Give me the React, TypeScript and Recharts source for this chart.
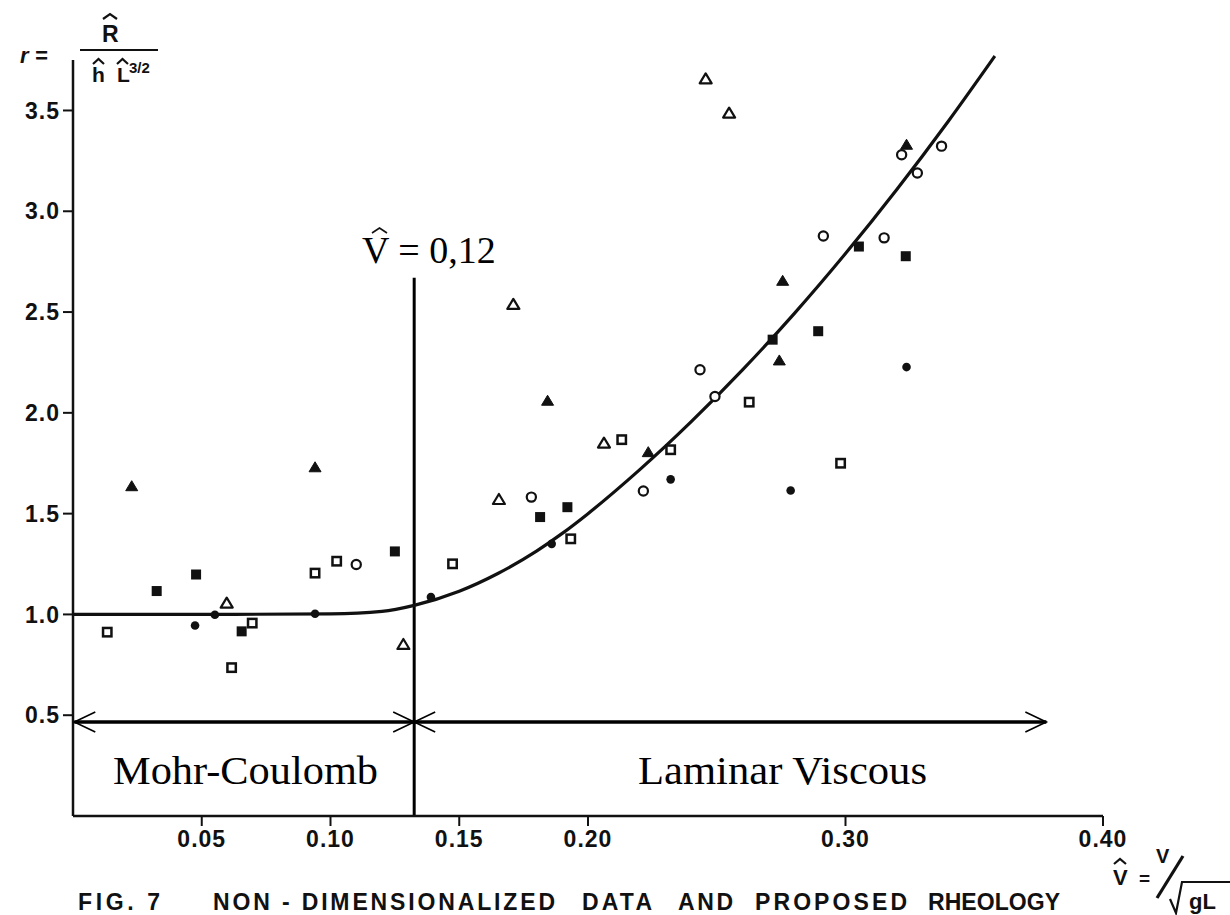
import React from "react";
import { ComposedChart, Line, Scatter, XAxis, YAxis, ReferenceLine, Customized } from "recharts";

// Fig. 7 – non-dimensionalized data (r vs V^) with the proposed rheology curve.
const curveX = [0, 0.05, 0.1, 0.12, 0.1325, 0.15, 0.165, 0.18, 0.19, 0.2, 0.22, 0.24, 0.26, 0.28, 0.3, 0.32, 0.34, 0.358];
const curveY = [1.0, 1.0, 1.003, 1.015, 1.045, 1.115, 1.203, 1.314, 1.402, 1.5, 1.717, 1.955, 2.213, 2.491, 2.79, 3.109, 3.448, 3.77];

const filledTriangle = [
  { x: 0.0228, y: 1.636 }, { x: 0.094, y: 1.73 }, { x: 0.1843, y: 2.06 }, { x: 0.2234, y: 1.805 },
  { x: 0.2743, y: 2.26 }, { x: 0.2756, y: 2.655 }, { x: 0.3237, y: 3.33 },
];
const openTriangle = [
  { x: 0.0597, y: 1.056 }, { x: 0.1283, y: 0.851 }, { x: 0.1654, y: 1.57 }, { x: 0.171, y: 2.538 },
  { x: 0.2062, y: 1.85 }, { x: 0.2457, y: 3.657 }, { x: 0.2548, y: 3.487 },
];
const filledSquare = [
  { x: 0.0325, y: 1.116 }, { x: 0.0478, y: 1.198 }, { x: 0.0655, y: 0.916 }, { x: 0.125, y: 1.3125 },
  { x: 0.1814, y: 1.483 }, { x: 0.192, y: 1.532 }, { x: 0.2717, y: 2.363 }, { x: 0.2894, y: 2.405 },
  { x: 0.3052, y: 2.825 }, { x: 0.3234, y: 2.777 },
];
const openSquare = [
  { x: 0.0133, y: 0.912 }, { x: 0.0616, y: 0.736 }, { x: 0.0696, y: 0.957 }, { x: 0.094, y: 1.205 },
  { x: 0.1024, y: 1.264 }, { x: 0.1474, y: 1.251 }, { x: 0.1933, y: 1.375 }, { x: 0.2131, y: 1.867 },
  { x: 0.2321, y: 1.817 }, { x: 0.2626, y: 2.053 }, { x: 0.2981, y: 1.75 },
];
const filledCircle = [
  { x: 0.0474, y: 0.945 }, { x: 0.0551, y: 0.998 }, { x: 0.094, y: 1.003 }, { x: 0.139, y: 1.086 },
  { x: 0.1859, y: 1.35 }, { x: 0.2321, y: 1.67 }, { x: 0.2787, y: 1.615 }, { x: 0.3237, y: 2.227 },
];
const openCircle = [
  { x: 0.11, y: 1.248 }, { x: 0.178, y: 1.582 }, { x: 0.2215, y: 1.612 }, { x: 0.2435, y: 2.214 },
  { x: 0.2493, y: 2.081 }, { x: 0.2914, y: 2.877 }, { x: 0.315, y: 2.868 }, { x: 0.3218, y: 3.28 },
  { x: 0.3279, y: 3.19 }, { x: 0.3373, y: 3.323 },
];

const xTicks = [0.05, 0.1, 0.15, 0.2, 0.3, 0.4];
const yTicks = [0.5, 1.0, 1.5, 2.0, 2.5, 3.0, 3.5];

const V_CRIT = 0.1325; // where the V^ = 0,12 boundary is drawn
const ARROW_Y = 0.466;
const ARROW_END = 0.378;
const BOUNDARY_TOP = 2.67;

const curve = curveX.map((x, i) => ({ x, y: curveY[i] }));

const INK = "#111";
const sans = "'Liberation Sans', Arial, sans-serif";
const serif = "'Liberation Serif', 'Times New Roman', serif";

const triShape = (filled: boolean) => (p: any) => (
  <polygon
    points={`${p.cx},${p.cy - 5.5} ${p.cx + 6},${p.cy + 4.5} ${p.cx - 6},${p.cy + 4.5}`}
    fill={filled ? INK : "#fff"}
    stroke={INK}
    strokeWidth={filled ? 1 : 2.2}
    strokeLinejoin="round"
  />
);
const sqShape = (filled: boolean) => (p: any) =>
  filled ? (
    <rect x={p.cx - 5} y={p.cy - 5} width={10} height={10} fill={INK} />
  ) : (
    <rect x={p.cx - 4.2} y={p.cy - 4.2} width={8.4} height={8.4} fill="#fff" stroke={INK} strokeWidth={2.5} />
  );
const circShape = (filled: boolean) => (p: any) =>
  filled ? (
    <circle cx={p.cx} cy={p.cy} r={4.3} fill={INK} />
  ) : (
    <circle cx={p.cx} cy={p.cy} r={4.6} fill="#fff" stroke={INK} strokeWidth={2.2} />
  );

function DoubleArrow(p: any) {
  const { x1, y1, x2, y2 } = p;
  return (
    <g>
      <line x1={x1} y1={y1} x2={x2} y2={y2} stroke="#000" strokeWidth={3.5} />
      <polyline points={`${x1 + 21},${y1 - 10} ${x1},${y1} ${x1 + 21},${y1 + 10}`} fill="none" stroke="#000" strokeWidth={1.6} />
      <polyline points={`${x2 - 21},${y2 - 10} ${x2},${y2} ${x2 - 21},${y2 + 10}`} fill="none" stroke="#000" strokeWidth={1.6} />
    </g>
  );
}

const hat = (x: number, y: number, w = 9, sw = 2.2) => (
  <polyline points={`${x},${y + 5} ${x + w / 2},${y} ${x + w},${y + 5}`} fill="none" stroke={INK} strokeWidth={sw} />
);

function Annotations() {
  return (
    <g>
      {/* y-axis title: r = R^ / (h^ L^3/2) */}
      <text x={20} y={63} fontFamily={sans} fontWeight="bold" fontSize={22} fontStyle="italic" fill={INK}>r =</text>
      <text x={102} y={42} fontFamily={sans} fontWeight="bold" fontSize={23} fill={INK}>R</text>
      {hat(103, 14, 14)}
      <line x1={80} y1={50} x2={158} y2={50} stroke={INK} strokeWidth={2.2} />
      <text x={92} y={82} fontFamily={sans} fontWeight="bold" fontSize={21} fill={INK}>h</text>
      {hat(93, 59, 11)}
      <text x={117} y={82} fontFamily={sans} fontWeight="bold" fontSize={21} fill={INK}>L</text>
      {hat(117, 59, 11)}
      <text x={129} y={73} fontFamily={sans} fontWeight="bold" fontSize={15} fill={INK}>3/2</text>

      {/* boundary label */}
      <text x={362} y={263} fontFamily={serif} fontSize={38} fill="#000">V = 0,12</text>
      {hat(372, 228, 15, 1.6)}

      {/* regime labels */}
      <text x={113} y={784} fontFamily={serif} fontSize={41} fill="#000" textLength={265} lengthAdjust="spacingAndGlyphs">Mohr-Coulomb</text>
      <text x={638} y={784} fontFamily={serif} fontSize={41} fill="#000" textLength={289} lengthAdjust="spacingAndGlyphs">Laminar Viscous</text>

      {/* x-axis title: V^ = V / sqrt(gL) */}
      <text x={1113} y={885} fontFamily={sans} fontWeight="bold" fontSize={22} fill={INK}>V</text>
      {hat(1114, 859, 12)}
      <text x={1139} y={885} fontFamily={sans} fontWeight="bold" fontSize={19} fill={INK}>=</text>
      <text x={1156} y={863} fontFamily={sans} fontWeight="bold" fontSize={20} fill={INK}>V</text>
      <line x1={1183} y1={856} x2={1157} y2={898} stroke={INK} strokeWidth={3.2} />
      <polyline points="1170,899 1176,913 1182,882 1230,882" fill="none" stroke={INK} strokeWidth={2.2} />
      <text x={1189} y={909} fontFamily={sans} fontWeight="bold" fontSize={22} fill={INK}>gL</text>

      {/* caption */}
      <g fontFamily={sans} fontWeight="bold" fontSize={23} fill={INK}>
        <text x={78} y={910} textLength={82} lengthAdjust="spacing">FIG. 7</text>
        <text x={213} y={910} textLength={342} lengthAdjust="spacing">NON - DIMENSIONALIZED</text>
        <text x={582} y={910} textLength={70} lengthAdjust="spacing">DATA</text>
        <text x={678} y={910} textLength={55} lengthAdjust="spacing">AND</text>
        <text x={755} y={910} textLength={152} lengthAdjust="spacing">PROPOSED</text>
        <text x={928} y={910} textLength={132} lengthAdjust="spacing">RHEOLOGY</text>
      </g>
    </g>
  );
}

const tickStyle = { fill: INK, fontFamily: sans, fontWeight: "bold" as const, fontSize: 23, letterSpacing: 1 };

export default function App() {
  return (
    <div style={{ position: "absolute", left: 0, top: 0, width: 1230, height: 915, background: "#fff" }}>
      <ComposedChart width={1230} height={915} margin={{ top: 50, right: 127, bottom: 69, left: 13 }}>
        <XAxis
          type="number"
          dataKey="x"
          domain={[0, 0.4]}
          ticks={xTicks}
          tickFormatter={(v: number) => v.toFixed(2)}
          height={30}
          tickSize={10}
          tickMargin={5}
          axisLine={{ stroke: INK, strokeWidth: 2.5 }}
          tickLine={{ stroke: INK, strokeWidth: 2 }}
          tick={tickStyle}
        />
        <YAxis
          type="number"
          dataKey="y"
          domain={[0, 3.8]}
          ticks={yTicks}
          tickFormatter={(v: number) => v.toFixed(1)}
          width={60}
          tickSize={10}
          tickMargin={3}
          axisLine={false}
          tickLine={{ stroke: INK, strokeWidth: 2 }}
          tick={tickStyle}
        />
        <ReferenceLine segment={[{ x: 0, y: 0 }, { x: 0, y: 3.75 }]} stroke={INK} strokeWidth={2.5} />
        <ReferenceLine segment={[{ x: V_CRIT, y: 0 }, { x: V_CRIT, y: BOUNDARY_TOP }]} stroke="#000" strokeWidth={3} />
        <ReferenceLine segment={[{ x: 0.0005, y: ARROW_Y }, { x: V_CRIT, y: ARROW_Y }]} shape={DoubleArrow} />
        <ReferenceLine segment={[{ x: V_CRIT, y: ARROW_Y }, { x: ARROW_END, y: ARROW_Y }]} shape={DoubleArrow} />
        <Line data={curve} dataKey="y" type="monotone" stroke={INK} strokeWidth={3.2} dot={false} isAnimationActive={false} />
        <Scatter data={filledTriangle} dataKey="y" shape={triShape(true)} isAnimationActive={false} />
        <Scatter data={openTriangle} dataKey="y" shape={triShape(false)} isAnimationActive={false} />
        <Scatter data={filledSquare} dataKey="y" shape={sqShape(true)} isAnimationActive={false} />
        <Scatter data={openSquare} dataKey="y" shape={sqShape(false)} isAnimationActive={false} />
        <Scatter data={filledCircle} dataKey="y" shape={circShape(true)} isAnimationActive={false} />
        <Scatter data={openCircle} dataKey="y" shape={circShape(false)} isAnimationActive={false} />
        <Customized component={Annotations} />
      </ComposedChart>
    </div>
  );
}
